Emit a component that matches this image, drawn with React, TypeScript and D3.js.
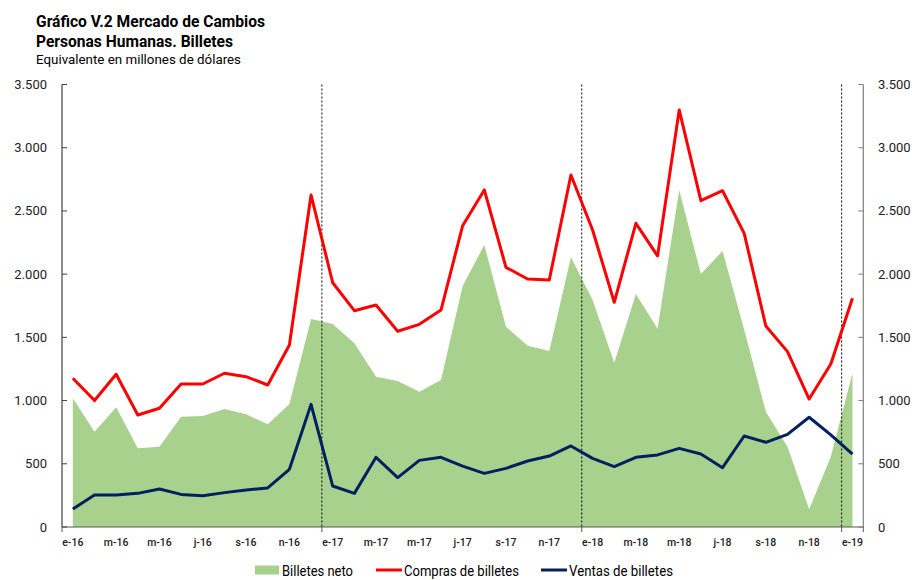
import React from "react";
import * as d3 from "d3";

const months = [
  "e-16","f-16","m-16","a-16","m-16","j-16","j-16","a-16","s-16","o-16","n-16","d-16",
  "e-17","f-17","m-17","a-17","m-17","j-17","j-17","a-17","s-17","o-17","n-17","d-17",
  "e-18","f-18","m-18","a-18","m-18","j-18","j-18","a-18","s-18","o-18","n-18","d-18",
  "e-19",
];

const compras = [
  1176, 1000, 1208, 886, 939, 1131, 1131, 1216, 1189, 1123, 1440, 2626,
  1932, 1711, 1756, 1548, 1603, 1716, 2383, 2666, 2054, 1962, 1954, 2784,
  2349, 1777, 2402, 2144, 3299, 2581, 2660, 2323, 1590, 1387, 1012, 1289,
  1809,
];

const ventas = [
  142, 253, 253, 266, 300, 258, 248, 272, 293, 309, 456, 970,
  324, 266, 551, 390, 527, 551, 482, 424, 464, 522, 561, 641,
  543, 477, 551, 570, 622, 577, 469, 720, 670, 733, 868, 728,
  577,
];

const neto = [
  1018, 754, 947, 622, 635, 873, 878, 933, 891, 812, 973, 1645,
  1606, 1453, 1189, 1155, 1070, 1163, 1906, 2231, 1584, 1434, 1392, 2133,
  1796, 1300, 1843, 1569, 2666, 2001, 2183, 1560, 912, 635, 140, 556,
  1216,
];

const yTicks = [0, 500, 1000, 1500, 2000, 2500, 3000, 3500];
const yearBreaks = [12, 24, 36];

const W = 912;
const H = 580;
const left = 62;
const right = 863.3;
const top = 84.5;
const bottom = 527;

const GREEN = "#A9D18E";
const RED = "#FF0000";
const NAVY = "#002060";
const FONT = "Roboto, 'Noto Sans', sans-serif";

const fmt = (v: number) => d3.format(",")(v).replace(/,/g, ".");

export default function App() {
  const x = d3
    .scaleBand<number>()
    .domain(d3.range(months.length))
    .range([left, right])
    .padding(0);
  const bw = x.bandwidth();
  const cx = (i: number) => (x(i) as number) + bw / 2;
  const y = d3.scaleLinear().domain([0, 3500]).range([bottom, top]);

  const area = d3
    .area<number>()
    .x((_, i) => cx(i))
    .y0(y(0))
    .y1((d) => y(d));
  const line = d3
    .line<number>()
    .x((_, i) => cx(i))
    .y((d) => y(d));

  const legY = 575.5;

  return (
    <svg
      width={W}
      height={H}
      style={{ position: "absolute", left: 0, top: 0, background: "#fff" }}
      fontFamily={FONT}
    >
      {/* Titles */}
      <text x={36} y={27} fontSize={16} fontWeight={700} fill="#000" textLength={229} lengthAdjust="spacingAndGlyphs">
        Gráfico V.2 Mercado de Cambios
      </text>
      <text x={36} y={47} fontSize={16} fontWeight={700} fill="#000" textLength={197} lengthAdjust="spacingAndGlyphs">
        Personas Humanas. Billetes
      </text>
      <text x={36} y={64} fontSize={13.5} fill="#000" textLength={205} lengthAdjust="spacingAndGlyphs">
        Equivalente en millones de dólares
      </text>

      {/* Area */}
      <path d={area(neto) as string} fill={GREEN} />

      {/* Year separators */}
      {yearBreaks.map((b) => (
        <line
          key={b}
          x1={x(b) as number}
          x2={x(b) as number}
          y1={top}
          y2={bottom}
          stroke="#000"
          strokeWidth={1}
          strokeDasharray="2,2"
        />
      ))}

      {/* Lines */}
      <path d={line(compras) as string} fill="none" stroke={RED} strokeWidth={3} strokeLinejoin="round" />
      <path d={line(ventas) as string} fill="none" stroke={NAVY} strokeWidth={3} strokeLinejoin="round" />

      {/* Axes */}
      <line x1={left} x2={left} y1={top} y2={bottom} stroke="#404040" strokeWidth={1.2} />
      <line x1={right} x2={right} y1={top} y2={bottom} stroke="#7f7f7f" strokeWidth={1.2} />
      <line x1={left} x2={right} y1={bottom} y2={bottom} stroke="#595959" strokeWidth={1.2} />
      {yTicks.map((t) => (
        <g key={t}>
          <line x1={left} x2={left + 5} y1={y(t)} y2={y(t)} stroke="#404040" strokeWidth={1} />
          <line x1={right - 5} x2={right} y1={y(t)} y2={y(t)} stroke="#7f7f7f" strokeWidth={1} />
          <text x={47} y={y(t)} dy="0.35em" fontSize={13} textAnchor="end" fill="#222">
            {fmt(t)}
          </text>
          <text x={878} y={y(t)} dy="0.35em" fontSize={13} textAnchor="start" fill="#222">
            {fmt(t)}
          </text>
        </g>
      ))}
      {[0, ...yearBreaks, months.length].map((b) => (
        <line
          key={"xt" + b}
          x1={x(b) ?? right}
          x2={x(b) ?? right}
          y1={bottom}
          y2={bottom + 5}
          stroke="#595959"
          strokeWidth={1}
        />
      ))}
      {months.map((m, i) =>
        i % 2 === 0 ? (
          <text key={"xl" + i} x={cx(i)} y={546} fontSize={10.5} fontWeight={500} textAnchor="middle" fill="#222">
            {m}
          </text>
        ) : null
      )}

      {/* Legend */}
      <rect x={255} y={legY - 10} width={24} height={9} fill={GREEN} />
      <text x={282} y={legY} fontSize={14} fill="#000" textLength={71} lengthAdjust="spacingAndGlyphs">
        Billetes neto
      </text>
      <line x1={376} x2={402} y1={legY - 5.5} y2={legY - 5.5} stroke={RED} strokeWidth={3} />
      <text x={404} y={legY} fontSize={14} fill="#000" textLength={115} lengthAdjust="spacingAndGlyphs">
        Compras de billetes
      </text>
      <line x1={541} x2={567} y1={legY - 5.5} y2={legY - 5.5} stroke={NAVY} strokeWidth={3} />
      <text x={569} y={legY} fontSize={14} fill="#000" textLength={104} lengthAdjust="spacingAndGlyphs">
        Ventas de billetes
      </text>
    </svg>
  );
}
